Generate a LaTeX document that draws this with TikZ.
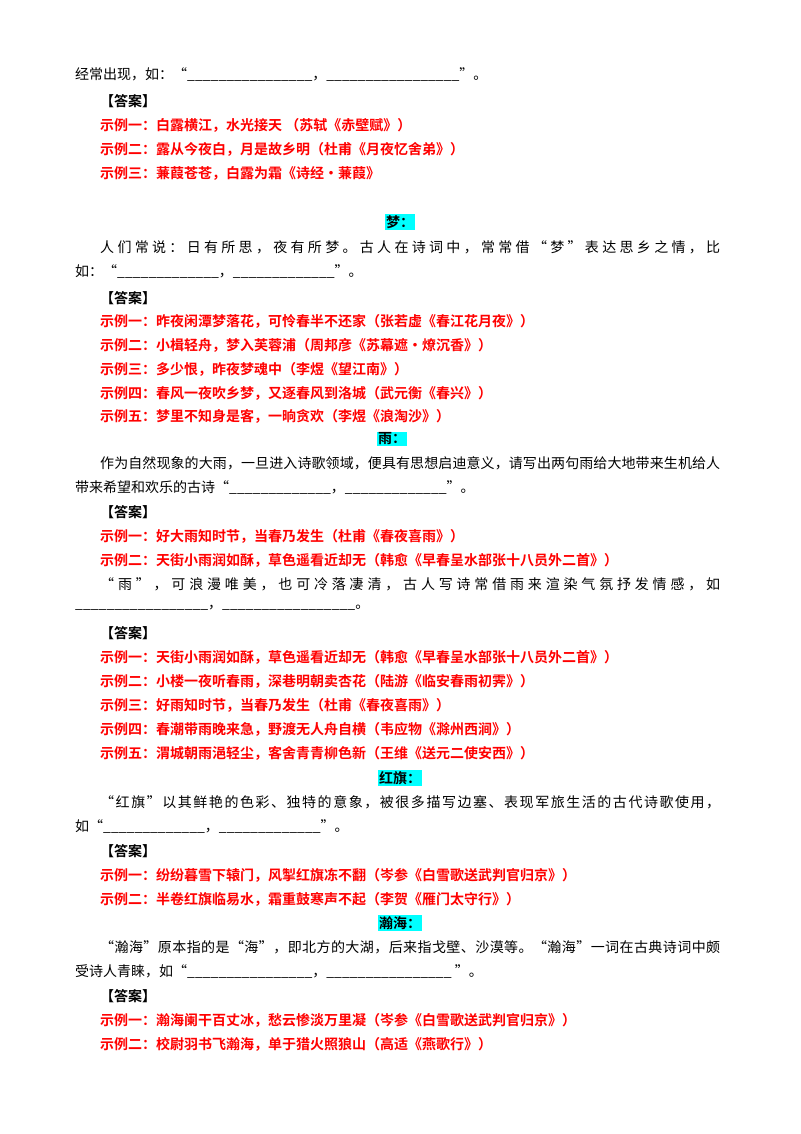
\documentclass[tikz,border=0pt]{standalone}
\usepackage{fontspec}
\setmainfont{Noto Sans CJK SC}[BoldFont={Noto Sans CJK SC Bold}]
\definecolor{hl}{RGB}{0,255,255}
\definecolor{ansred}{RGB}{255,0,0}
\def\sprchar#1{\ifx#1\relax\else#1\hfil\expandafter\sprchar\fi}
\newcommand\jline[1]{\hbox to 620pt{\sprchar#1\relax\unskip}}
\begin{document}
\begin{tikzpicture}[x=1pt,y=-1pt,
  body/.style={anchor=west,inner sep=0pt,font=\fontsize{14}{16}\selectfont},
  ans/.style={body,text=ansred,font=\fontsize{14}{16}\selectfont\bfseries},
  key/.style={body,font=\fontsize{14}{16}\selectfont\bfseries},
  head/.style={inner sep=1pt,fill=hl,font=\fontsize{14}{16}\selectfont\bfseries}]
\useasboundingbox (0,0) rectangle (800,1134);
\node[body] (l1) at (75,75) {经常出现，如：“\_\_\_\_\_\_\_\_\_\_\_\_\_\_\_\_，\_\_\_\_\_\_\_\_\_\_\_\_\_\_\_\_\_”。};
\node[key] (k1) at (100,101) {【答案】};
\node[ans] (a11) at (100,125) {示例一：白露横江，水光接天 （苏轼《赤壁赋》）};
\node[ans] (a12) at (100,149) {示例二：露从今夜白，月是故乡明（杜甫《月夜忆舍弟》）};
\node[ans] (a13) at (100,173) {示例三：蒹葭苍苍，白露为霜《诗经·蒹葭》};
\node[head] (h2) at (400,222) {梦：};
\node[body] (l2) at (100,247) {\jline{人们常说：日有所思，夜有所梦。古人在诗词中，常常借“梦”表达思乡之情，比}};
\node[body] (l3) at (75,272) {如：“\_\_\_\_\_\_\_\_\_\_\_\_\_，\_\_\_\_\_\_\_\_\_\_\_\_\_”。};
\node[key] (k2) at (100,298) {【答案】};
\node[ans] (a21) at (100,321) {示例一：昨夜闲潭梦落花，可怜春半不还家（张若虚《春江花月夜》）};
\node[ans] (a22) at (100,345) {示例二：小楫轻舟，梦入芙蓉浦（周邦彦《苏幕遮·燎沉香》）};
\node[ans] (a23) at (100,369) {示例三：多少恨，昨夜梦魂中（李煜《望江南》）};
\node[ans] (a24) at (100,393) {示例四：春风一夜吹乡梦，又逐春风到洛城（武元衡《春兴》）};
\node[ans] (a25) at (100,416) {示例五：梦里不知身是客，一晌贪欢（李煜《浪淘沙》）};
\node[head] (h3) at (392,439) {雨：};
\node[body] (l4) at (100,463) {\jline{作为自然现象的大雨，一旦进入诗歌领域，便具有思想启迪意义，请写出两句雨给大地带来生机给人}};
\node[body] (l5) at (75,488) {带来希望和欢乐的古诗“\_\_\_\_\_\_\_\_\_\_\_\_\_，\_\_\_\_\_\_\_\_\_\_\_\_\_”。};
\node[key] (k3) at (100,512) {【答案】};
\node[ans] (a31) at (100,536) {示例一：好大雨知时节，当春乃发生（杜甫《春夜喜雨》）};
\node[ans] (a32) at (100,560) {示例二：天街小雨润如酥，草色遥看近却无（韩愈《早春呈水部张十八员外二首》）};
\node[body] (l6) at (100,584) {\jline{“雨”，可浪漫唯美，也可冷落凄清，古人写诗常借雨来渲染气氛抒发情感，如}};
\node[body] (l7) at (75,608) {\_\_\_\_\_\_\_\_\_\_\_\_\_\_\_\_\_，\_\_\_\_\_\_\_\_\_\_\_\_\_\_\_\_\_。};
\node[key] (k4) at (100,633) {【答案】};
\node[ans] (a41) at (100,657) {示例一：天街小雨润如酥，草色遥看近却无（韩愈《早春呈水部张十八员外二首》）};
\node[ans] (a42) at (100,681) {示例二：小楼一夜听春雨，深巷明朝卖杏花（陆游《临安春雨初霁》）};
\node[ans] (a43) at (100,705) {示例三：好雨知时节，当春乃发生（杜甫《春夜喜雨》）};
\node[ans] (a44) at (100,729) {示例四：春潮带雨晚来急，野渡无人舟自横（韦应物《滁州西涧》）};
\node[ans] (a45) at (100,753) {示例五：渭城朝雨浥轻尘，客舍青青柳色新（王维《送元二使安西》）};
\node[head] (h4) at (400,778) {红旗：};
\node[body] (l8) at (100,802) {\jline{“红旗”以其鲜艳的色彩、独特的意象，被很多描写边塞、表现军旅生活的古代诗歌使用，}};
\node[body] (l9) at (75,827) {如“\_\_\_\_\_\_\_\_\_\_\_\_\_，\_\_\_\_\_\_\_\_\_\_\_\_\_”。};
\node[key] (k5) at (100,851) {【答案】};
\node[ans] (a51) at (100,875) {示例一：纷纷暮雪下辕门，风掣红旗冻不翻（岑参《白雪歌送武判官归京》）};
\node[ans] (a52) at (100,899) {示例二：半卷红旗临易水，霜重鼓寒声不起（李贺《雁门太守行》）};
\node[head] (h5) at (400,923) {瀚海：};
\node[body] (l10) at (100,947) {\jline{“瀚海”原本指的是“海”，即北方的大湖，后来指戈壁、沙漠等。“瀚海”一词在古典诗词中颇}};
\node[body] (l11) at (75,972) {受诗人青睐，如“\_\_\_\_\_\_\_\_\_\_\_\_\_\_\_\_，\_\_\_\_\_\_\_\_\_\_\_\_\_\_\_\_ ”。};
\node[key] (k6) at (100,996) {【答案】};
\node[ans] (a61) at (100,1020) {示例一：瀚海阑干百丈冰，愁云惨淡万里凝（岑参《白雪歌送武判官归京》）};
\node[ans] (a62) at (100,1044) {示例二：校尉羽书飞瀚海，单于猎火照狼山（高适《燕歌行》）};
\end{tikzpicture}
\end{document}
